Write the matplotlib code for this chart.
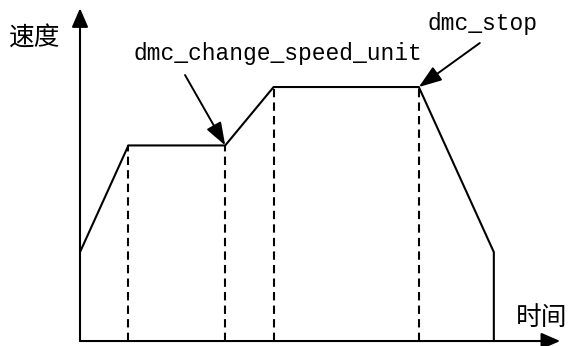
import matplotlib
matplotlib.use("Agg")
import matplotlib.pyplot as plt

# speed profile (time units, speed units)
times = [0, 1, 3, 4, 7, 8.55]
speeds = [1.75, 3.85, 3.85, 5, 5, 1.75]
dashed_idx = [1, 2, 3, 4]          # corners that get a dashed drop line
y_label = "速度"
x_label = "时间"
note_change = "dmc_change_speed_unit"
note_stop = "dmc_stop"

CJK = ["Noto Sans CJK SC", "DejaVu Sans"]
MONO = "Liberation Mono"

fig = plt.figure(figsize=(5.69, 3.46), dpi=100)
ax = fig.add_axes([0, 0, 1, 1])
ax.set_xlim(-1.653, 10.103)
ax.set_ylim(-0.098, 6.713)
ax.axis("off")

# axes with arrow heads
axis_arrow = dict(arrowstyle="-|>,head_length=1.15,head_width=0.5",
                  mutation_scale=10, lw=1.5, color="black",
                  shrinkA=0, shrinkB=0)
ax.annotate("", xy=(0, 6.55), xytext=(0, 0), arrowprops=axis_arrow)
ax.annotate("", xy=(9.92, 0), xytext=(0, 0), arrowprops=axis_arrow)

# profile + final drop to zero
ax.plot(times + [times[-1]], speeds + [0], color="black", lw=1.5,
        solid_joinstyle="miter", solid_capstyle="butt")

# dashed drop lines
for i in dashed_idx:
    ax.plot([times[i], times[i]], [0, speeds[i]], color="black", lw=1.5,
            linestyle=(0, (4, 2.5)))

# labels
ax.text(-0.93, 5.955, y_label, family=CJK, fontsize=18.5,
        ha="center", va="center")
ax.text(9.545, 0.463, x_label, family=CJK, fontsize=18.5,
        ha="center", va="center")

note_arrow = dict(arrowstyle="-|>,head_length=1.4,head_width=0.5",
                  mutation_scale=10, lw=1.4, color="black",
                  shrinkA=0, shrinkB=0)
ax.text(1.095, 5.53, note_change, family=MONO, fontsize=16.5,
        ha="left", va="baseline")
ax.annotate("", xy=(times[2], speeds[2]), xytext=(2.17, 5.236),
            arrowprops=note_arrow)
ax.text(7.17, 6.12, note_stop, family=MONO, fontsize=16.5,
        ha="left", va="baseline")
ax.annotate("", xy=(times[4], speeds[4]), xytext=(8.26, 5.866),
            arrowprops=note_arrow)

fig.savefig("out.png", dpi=100)
